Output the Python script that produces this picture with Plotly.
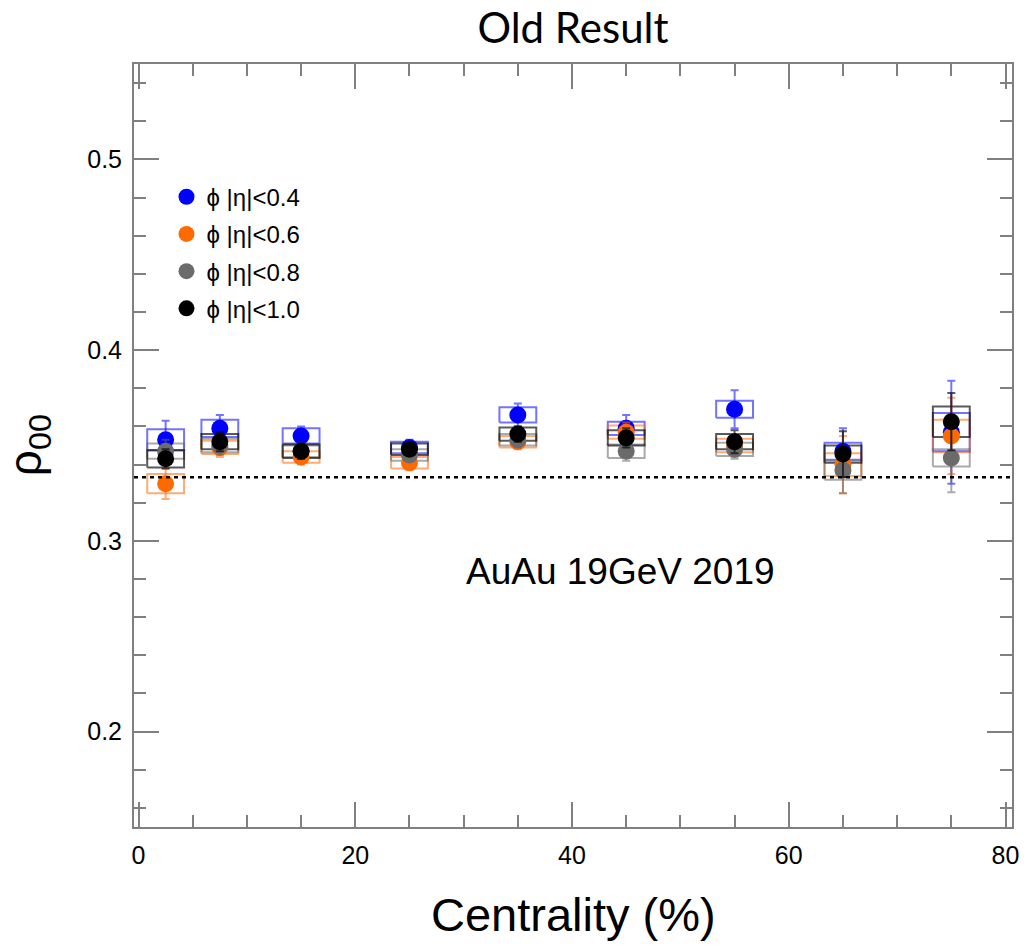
import plotly.graph_objects as go

# ---------------- data ----------------
centrality = [2.5, 7.5, 15, 25, 35, 45, 55, 65, 75]
bin_halfwidth = 1.7  # half width of systematic boxes (display)

series_names = ["ϕ |η|<0.4", "ϕ |η|<0.6", "ϕ |η|<0.8", "ϕ |η|<1.0"]

rho_eta04 = [0.353, 0.359, 0.355, 0.349, 0.366, 0.359, 0.369, 0.347, 0.357]
rho_eta06 = [0.330, 0.349, 0.344, 0.341, 0.352, 0.357, 0.350, 0.340, 0.355]
rho_eta08 = [0.347, 0.350, 0.347, 0.345, 0.353, 0.347, 0.348, 0.337, 0.3435]
rho_eta10 = [0.343, 0.352, 0.347, 0.348, 0.356, 0.354, 0.352, 0.3455, 0.3625]

stat_eta04 = [0.010, 0.007, 0.005, 0.004, 0.006, 0.007, 0.010, 0.012, 0.027]
stat_eta06 = [0.008, 0.005, 0.004, 0.004, 0.004, 0.005, 0.006, 0.015, 0.020]
stat_eta08 = [0.006, 0.005, 0.004, 0.003, 0.004, 0.005, 0.005, 0.012, 0.018]
stat_eta10 = [0.005, 0.005, 0.004, 0.003, 0.004, 0.005, 0.006, 0.012, 0.015]

sys_eta04 = [0.0055, 0.0045, 0.0040, 0.0030, 0.0040, 0.0035, 0.0045, 0.0045, 0.0100]
sys_eta06 = [0.0050, 0.0035, 0.0030, 0.0030, 0.0030, 0.0035, 0.0035, 0.0060, 0.0085]
sys_eta08 = [0.0040, 0.0035, 0.0030, 0.0030, 0.0030, 0.0035, 0.0035, 0.0050, 0.0045]
sys_eta10 = [0.0045, 0.0040, 0.0035, 0.0030, 0.0035, 0.0040, 0.0040, 0.0045, 0.0080]

reference_value = 1.0 / 3.0

x_ticks = [0, 20, 40, 60, 80]
y_ticks = [0.2, 0.3, 0.4, 0.5]

marker_colors = ["#0000ff", "#ff6a00", "#6b6b6b", "#000000"]
line_colors = ["rgba(0,0,255,0.55)", "rgba(255,102,0,0.55)",
               "rgba(100,100,100,0.55)", "rgba(0,0,0,0.65)"]

values = [rho_eta04, rho_eta06, rho_eta08, rho_eta10]
stats = [stat_eta04, stat_eta06, stat_eta08, stat_eta10]
syss = [sys_eta04, sys_eta06, sys_eta08, sys_eta10]

fig = go.Figure()

# systematic boxes
for i in range(4):
    bx, by = [], []
    for xc, yc, s in zip(centrality, values[i], syss[i]):
        bx += [xc - bin_halfwidth, xc + bin_halfwidth, xc + bin_halfwidth,
               xc - bin_halfwidth, xc - bin_halfwidth, None]
        by += [yc - s, yc - s, yc + s, yc + s, yc - s, None]
    fig.add_trace(go.Scatter(x=bx, y=by, mode="lines",
                             line=dict(color=line_colors[i], width=2),
                             showlegend=False, hoverinfo="skip",
                             legendgroup=f"g{i}"))

# points with statistical errors
for i in range(4):
    fig.add_trace(go.Scatter(
        x=centrality, y=values[i], mode="markers", name=series_names[i],
        marker=dict(color=marker_colors[i], size=17, symbol="circle"),
        error_y=dict(type="data", array=stats[i], color=line_colors[i],
                     thickness=2, width=4),
        legendgroup=f"g{i}"))

fig.add_shape(type="line", xref="paper", yref="y", x0=0, x1=1,
              y0=reference_value, y1=reference_value,
              line=dict(color="black", width=2.5, dash="4px,4px"))

axis_common = dict(
    showline=True, linecolor="#808080", linewidth=2, mirror="ticks",
    ticks="inside", ticklen=25, tickwidth=2, tickcolor="#808080",
    showgrid=False, zeroline=False, ticklabelstandoff=5,
    tickfont=dict(family="Liberation Sans, Arial", size=25, color="black"),
)

fig.update_xaxes(range=[-0.42, 80.6], tickmode="array", tickvals=x_ticks,
                 minor=dict(dtick=5, tick0=0, ticks="inside", ticklen=12,
                            tickwidth=2, tickcolor="#808080", showgrid=False),
                 **axis_common)
fig.update_yaxes(range=[0.15, 0.55], tickmode="array", tickvals=y_ticks,
                 ticktext=["0.2", "0.3", "0.4", "0.5"],
                 minor=dict(dtick=0.02, tick0=0.0, ticks="inside", ticklen=12,
                            tickwidth=2, tickcolor="#808080", showgrid=False),
                 **axis_common)

fig.add_annotation(text="Centrality (%)", xref="paper", yref="paper",
                   x=0.5, y=-0.115, xanchor="center", yanchor="middle",
                   showarrow=False,
                   font=dict(family="Liberation Sans, Arial", size=47, color="black"))
fig.add_annotation(text="ρ<sub>00</sub>", xref="paper", yref="paper",
                   x=-0.12, y=0.5, xanchor="center", yanchor="middle",
                   textangle=-90, showarrow=False,
                   font=dict(family="Liberation Sans, Arial", size=46, color="black"))
fig.add_annotation(text="AuAu 19GeV 2019", xref="paper", yref="paper",
                   x=0.554, y=0.3355, xanchor="center", yanchor="middle",
                   showarrow=False,
                   font=dict(family="Liberation Sans, Arial", size=37, color="black"))

fig.update_layout(
    width=1031, height=950,
    margin=dict(l=134, r=13, t=64, b=123),
    paper_bgcolor="white", plot_bgcolor="white",
    title=dict(text="Old Result", x=0.5, xref="paper", y=1 - 28 / 950,
               yref="container", xanchor="center", yanchor="middle",
               font=dict(family="Lato, Open Sans", size=42, color="black")),
    legend=dict(x=0.037, y=0.855, xanchor="left", yanchor="top",
                bgcolor="rgba(0,0,0,0)", borderwidth=0,
                tracegroupgap=3,
                font=dict(family="Liberation Sans, Arial", size=24, color="black")),
    showlegend=True,
)

fig.write_html("out.html")
